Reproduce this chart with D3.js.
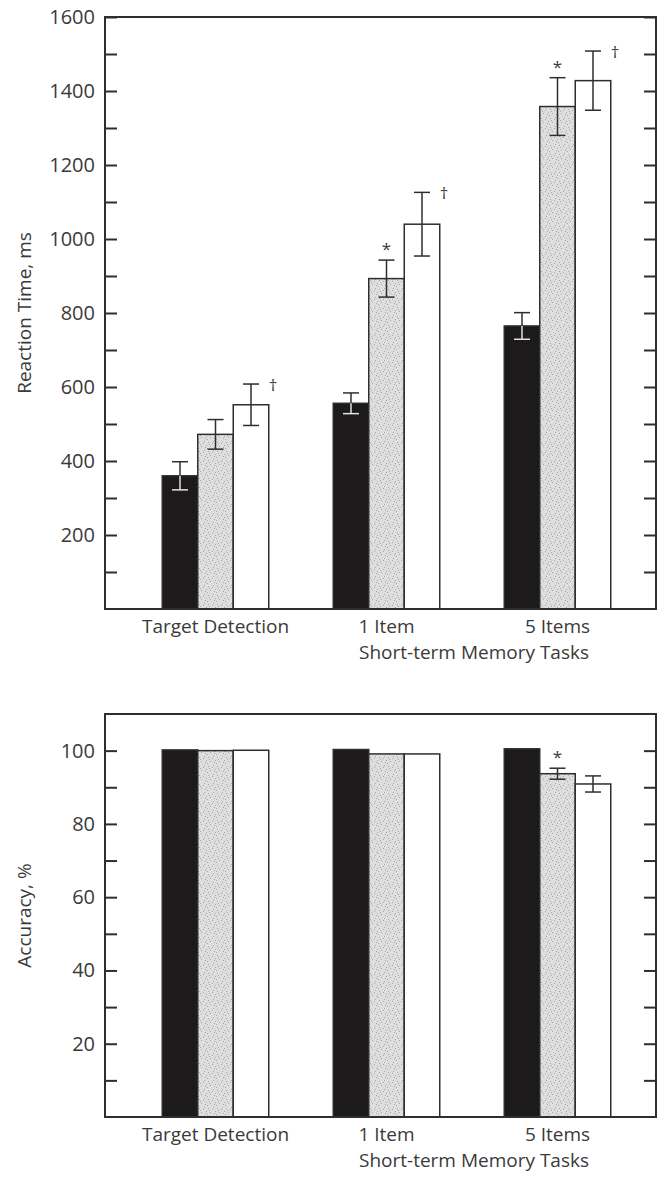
<!DOCTYPE html>
<html>
<head>
<meta charset="utf-8">
<script src="https://cdn.jsdelivr.net/npm/d3@7"></script>
<style>
  body { margin: 0; background: #fff; }
  text { font-family: "Open Sans", sans-serif; fill: #3a3a3a; }
</style>
</head>
<body>
<svg id="chart" width="661" height="1182"></svg>
<script>
// data
const tasks = ["Target Detection", "1 Item", "5 Items"];
const groups = ["Group A", "Group B", "Group C"];

const rtMean = [[360, 472, 552], [556, 893, 1040], [765, 1358, 1428]];
const rtErr = [[38, 40, 56], [28, 50, 86], [36, 78, 80]];
const rtTicks = [100, 200, 300, 400, 500, 600, 700, 800, 900, 1000, 1100, 1200, 1300, 1400, 1500, 1600];
const rtLabels = [200, 400, 600, 800, 1000, 1200, 1400, 1600];
const rtMarks = [
    { task: "Target Detection", group: "Group C", sym: "\u2020" },
    { task: "1 Item", group: "Group B", sym: "*" },
    { task: "1 Item", group: "Group C", sym: "\u2020" },
    { task: "5 Items", group: "Group B", sym: "*" },
    { task: "5 Items", group: "Group C", sym: "\u2020" }
];

const accMean = [[100.2, 100.0, 100.1], [100.3, 99.1, 99.1], [100.5, 93.7, 90.9]];
const accErr = [[0.2, 0.2, 0.2], [0.2, 0.2, 0.2], [0.2, 1.5, 2.2]];
const accTicks = [10, 20, 30, 40, 50, 60, 70, 80, 90, 100];
const accLabels = [20, 40, 60, 80, 100];
const accMarks = [
    { task: "5 Items", group: "Group B", sym: "*" }
];

const svg = d3.select("#chart");
const left = 105, right = 656;
const ink = "#2e2e2e";

// stippled fill for the middle bars
const defs = svg.append("defs");
const pat = defs.append("pattern")
    .attr("id", "stipple")
    .attr("patternUnits", "userSpaceOnUse")
    .attr("width", 9)
    .attr("height", 9);
pat.append("rect").attr("width", 9).attr("height", 9).attr("fill", "#dedede");
[[1, 1], [5, 2], [3, 5], [7, 6], [0, 7], [6, 0], [2, 3], [8, 4]].forEach(p => {
    pat.append("rect")
        .attr("x", p[0]).attr("y", p[1])
        .attr("width", 1).attr("height", 1)
        .attr("fill", "#a8a8a8");
});

const fills = { "Group A": "#1c1a1a", "Group B": "url(#stipple)", "Group C": "#ffffff" };

const x0 = d3.scaleBand().domain(tasks).range([130, 643]);
const clusterW = 106.5;
const x1 = d3.scaleBand().domain(groups).range([0, clusterW]);
const barX = (t, g) => x0(t) + (x0.bandwidth() - clusterW) / 2 + x1(g);

function drawPanel(cfg) {
    const y = d3.scaleLinear().domain(cfg.domain).range([cfg.bottom, cfg.top]);
    const g = svg.append("g");

    // bars
    const rows = [];
    tasks.forEach((t, i) => groups.forEach((s, j) => {
        rows.push({ task: t, group: s, mean: cfg.mean[i][j], err: cfg.err[i][j] });
    }));

    g.selectAll("rect.bar")
        .data(rows)
        .join("rect")
        .attr("class", "bar")
        .attr("x", d => barX(d.task, d.group))
        .attr("y", d => y(d.mean))
        .attr("width", x1.bandwidth())
        .attr("height", d => cfg.bottom - y(d.mean))
        .attr("fill", d => fills[d.group])
        .attr("stroke", ink)
        .attr("stroke-width", 1.5);

    // error bars (skip the ones too small to see)
    const cap = 8;
    rows.filter(d => d.err > 0.5).forEach(d => {
        const cx = barX(d.task, d.group) + x1.bandwidth() / 2;
        const yt = y(d.mean + d.err), yb = y(d.mean - d.err), ym = y(d.mean);
        const lowCol = d.group === "Group A" ? "#e2e2e2" : ink;
        g.append("line").attr("x1", cx).attr("x2", cx).attr("y1", yt).attr("y2", ym)
            .attr("stroke", ink).attr("stroke-width", 1.5);
        g.append("line").attr("x1", cx - cap).attr("x2", cx + cap).attr("y1", yt).attr("y2", yt)
            .attr("stroke", ink).attr("stroke-width", 1.5);
        g.append("line").attr("x1", cx).attr("x2", cx).attr("y1", ym).attr("y2", yb)
            .attr("stroke", lowCol).attr("stroke-width", 1.5);
        g.append("line").attr("x1", cx - cap).attr("x2", cx + cap).attr("y1", yb).attr("y2", yb)
            .attr("stroke", lowCol).attr("stroke-width", 1.5);
    });

    // significance marks
    cfg.marks.forEach(m => {
        const i = tasks.indexOf(m.task), j = groups.indexOf(m.group);
        const cx = barX(m.task, m.group) + x1.bandwidth() / 2;
        const yt = y(cfg.mean[i][j] + cfg.err[i][j]);
        g.append("text")
            .attr("x", m.sym === "*" ? cx : cx + 22)
            .attr("y", m.sym === "*" ? yt - 5 : yt + 7)
            .attr("text-anchor", "middle")
            .style("font-size", "17px")
            .text(m.sym);
    });

    // left axis with inward ticks
    const axL = g.append("g")
        .attr("transform", `translate(${left},0)`)
        .call(d3.axisLeft(y)
            .tickValues(cfg.ticks)
            .tickSize(-12)
            .tickPadding(10)
            .tickFormat(d => cfg.labels.includes(d) ? d : ""));
    axL.select(".domain").remove();
    axL.selectAll("line").attr("stroke", ink).attr("stroke-width", 2);
    axL.selectAll("text").style("font-size", "20px").attr("fill", "#3a3a3a");

    // right side ticks
    const axR = g.append("g")
        .attr("transform", `translate(${right},0)`)
        .call(d3.axisRight(y).tickValues(cfg.ticks).tickSize(-12).tickFormat(""));
    axR.select(".domain").remove();
    axR.selectAll("line").attr("stroke", ink).attr("stroke-width", 2);

    // frame
    g.append("rect")
        .attr("x", left).attr("y", cfg.top)
        .attr("width", right - left).attr("height", cfg.bottom - cfg.top)
        .attr("fill", "none").attr("stroke", ink).attr("stroke-width", 2);

    // category labels
    g.selectAll("text.cat")
        .data(tasks)
        .join("text")
        .attr("class", "cat")
        .attr("x", d => x0(d) + x0.bandwidth() / 2)
        .attr("y", cfg.bottom + 24)
        .attr("text-anchor", "middle")
        .style("font-size", "19px")
        .text(d => d);

    g.append("text")
        .attr("x", 474)
        .attr("y", cfg.bottom + 50)
        .attr("text-anchor", "middle")
        .style("font-size", "19px")
        .text("Short-term Memory Tasks");

    g.append("text")
        .attr("transform", `translate(31,${(cfg.top + cfg.bottom) / 2}) rotate(-90)`)
        .attr("text-anchor", "middle")
        .style("font-size", "19px")
        .text(cfg.yTitle);
}

drawPanel({
    top: 17, bottom: 609, domain: [0, 1600],
    mean: rtMean, err: rtErr, ticks: rtTicks, labels: rtLabels,
    marks: rtMarks, yTitle: "Reaction Time, ms"
});

drawPanel({
    top: 714, bottom: 1117, domain: [0, 110],
    mean: accMean, err: accErr, ticks: accTicks, labels: accLabels,
    marks: accMarks, yTitle: "Accuracy, %"
});
</script>
</body>
</html>
